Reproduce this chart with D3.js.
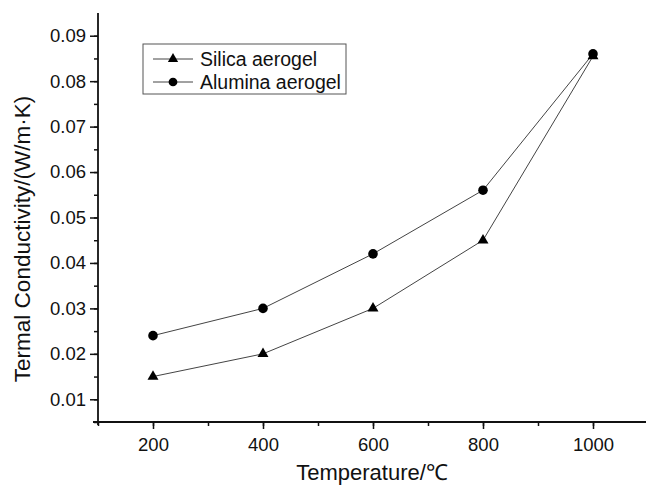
<!DOCTYPE html>
<html>
<head>
<meta charset="utf-8">
<script src="https://cdn.jsdelivr.net/npm/d3@7/dist/d3.min.js"></script>
<style>
  body { margin: 0; background: #fff; }
  svg { display: block; font-family: "Liberation Sans", Arial, sans-serif; }
</style>
</head>
<body>
<div id="vis"></div>
<script>
// data
var temps = [200, 400, 600, 800, 1000];
var silica = [0.015, 0.020, 0.030, 0.045, 0.0855];
var alumina = [0.024, 0.030, 0.042, 0.056, 0.086];
var xTicks = [200, 400, 600, 800, 1000];
var yTicks = [0.01, 0.02, 0.03, 0.04, 0.05, 0.06, 0.07, 0.08, 0.09];

var width = 646;
var height = 486;

var series = [
  { name: 'Silica aerogel', values: silica, symbol: d3.symbolTriangle },
  { name: 'Alumina aerogel', values: alumina, symbol: d3.symbolCircle }
];

var svg = d3.select('#vis')
  .append('svg')
  .attr('width', width)
  .attr('height', height);

// scales - axis origin sits at (98, 422)
var x = d3.scaleLinear().domain([100, 1100]).range([98, 648]);
var y = d3.scaleLinear().domain([0.005, 0.095]).range([422, 13]);

// minor ticks first so the major ones draw over them
var xMinor = d3.axisBottom(x).tickValues(d3.range(100, 1101, 100)).tickSize(4).tickFormat('');
var yMinor = d3.axisLeft(y).tickValues(d3.range(1, 19).map(function (i) { return +(0.005 * i).toFixed(3); })).tickSize(4).tickFormat('');

svg.append('g')
  .attr('transform', 'translate(0,422)')
  .call(xMinor);
svg.append('g')
  .attr('transform', 'translate(98,0)')
  .call(yMinor);

var xAxis = svg.append('g')
  .attr('transform', 'translate(0,422)')
  .call(d3.axisBottom(x).tickValues(xTicks).tickSize(7).tickPadding(9).tickFormat(d3.format('d')));

var yAxis = svg.append('g')
  .attr('transform', 'translate(98,0)')
  .call(d3.axisLeft(y).tickValues(yTicks).tickSize(8).tickPadding(4).tickFormat(d3.format('.2f')));

svg.selectAll('.domain').remove();
svg.selectAll('.tick line').attr('stroke', '#111').attr('stroke-width', 1.5);
svg.selectAll('.tick text')
  .attr('fill', '#111')
  .style('font-size', '18.5px')
  .style('font-family', '"Liberation Sans", Arial, sans-serif');

// axis lines, the left one runs a little below the bottom one
svg.append('line')
  .attr('x1', 93).attr('x2', width)
  .attr('y1', 422).attr('y2', 422)
  .attr('stroke', '#111').attr('stroke-width', 1.8);
svg.append('line')
  .attr('x1', 98).attr('x2', 98)
  .attr('y1', 13).attr('y2', 425)
  .attr('stroke', '#111').attr('stroke-width', 1.8);

// lines behind the markers
var line = d3.line()
  .x(function (d, i) { return x(temps[i]); })
  .y(function (d) { return y(d); });

series.forEach(function (s) {
  svg.append('path')
    .datum(s.values)
    .attr('fill', 'none')
    .attr('stroke', '#444')
    .attr('stroke-width', 1)
    .attr('d', line);
});

series.forEach(function (s) {
  svg.append('g')
    .selectAll('path')
    .data(s.values)
    .enter()
    .append('path')
    .attr('transform', function (d, i) { return 'translate(' + x(temps[i]) + ',' + y(d) + ')'; })
    .attr('d', d3.symbol().type(s.symbol).size(s.symbol === d3.symbolCircle ? 72 : 52))
    .attr('fill', '#000');
});

// axis titles
svg.append('text')
  .attr('transform', 'translate(30,239) rotate(-90)')
  .attr('text-anchor', 'middle')
  .style('font-size', '22.5px')
  .attr('fill', '#111')
  .text('Termal Conductivity/(W/m·K)');

svg.append('text')
  .attr('x', 372)
  .attr('y', 480)
  .attr('text-anchor', 'middle')
  .style('font-size', '22px')
  .attr('fill', '#111')
  .text('Temperature/℃');

// legend
var legend = svg.append('g');
legend.append('rect')
  .attr('x', 143).attr('y', 44)
  .attr('width', 203).attr('height', 50)
  .attr('fill', '#fff')
  .attr('stroke', '#555')
  .attr('stroke-width', 1);

var rows = legend.selectAll('.row')
  .data(series)
  .enter()
  .append('g')
  .attr('class', 'row')
  .attr('transform', function (d, i) { return 'translate(0,' + (59 + i * 23) + ')'; });

rows.append('line')
  .attr('x1', 153).attr('x2', 193)
  .attr('stroke', '#444').attr('stroke-width', 1);
rows.append('path')
  .attr('transform', 'translate(173,0)')
  .attr('d', function (d) { return d3.symbol().type(d.symbol).size(d.symbol === d3.symbolCircle ? 60 : 46)(); })
  .attr('fill', '#000');
rows.append('text')
  .attr('x', 200)
  .attr('y', 6.5)
  .style('font-size', '19.5px')
  .attr('fill', '#111')
  .text(function (d) { return d.name; });
</script>
</body>
</html>
